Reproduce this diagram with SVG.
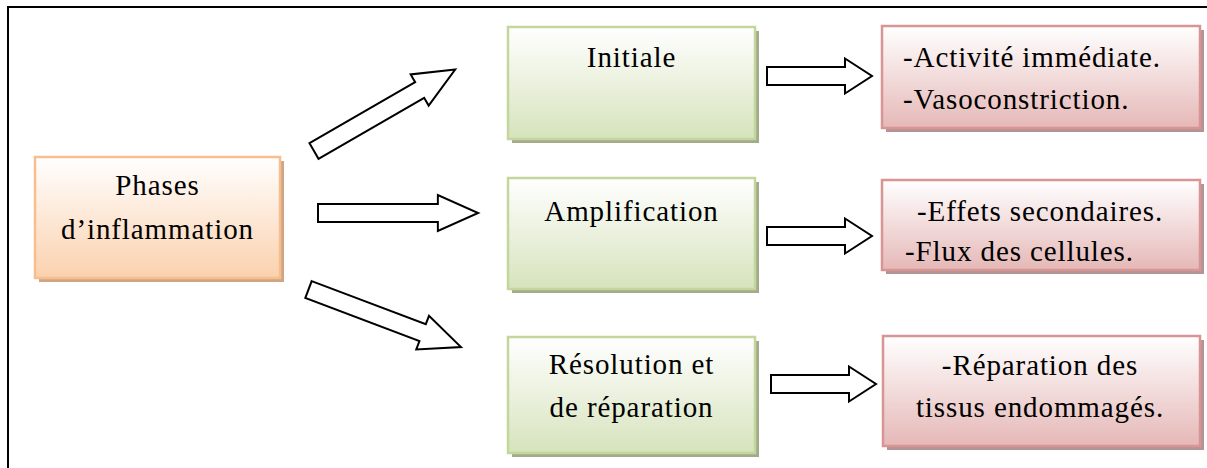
<svg xmlns="http://www.w3.org/2000/svg" width="1207" height="468" viewBox="0 0 1207 468">
<defs>
<linearGradient id="gOrange" x1="0" y1="0" x2="0" y2="1"><stop offset="0" stop-color="#ffffff"/><stop offset="1" stop-color="#fbd1ae"/></linearGradient>
<linearGradient id="gGreen" x1="0" y1="0" x2="0" y2="1"><stop offset="0" stop-color="#ffffff"/><stop offset="0.5" stop-color="#ebf1de"/><stop offset="1" stop-color="#d6e3bc"/></linearGradient>
<linearGradient id="gPink" x1="0" y1="0" x2="0" y2="1"><stop offset="0" stop-color="#ffffff"/><stop offset="1" stop-color="#e5b8b7"/></linearGradient>
<path id="arrSmall" d="M0,-9 H78 V-17.5 L105,0 L78,17.5 V9 H0 Z"/>
<path id="arrBig" d="M0,-9 H122 V-18 L163,0 L122,18 V9 H0 Z"/>
</defs>
<style>
.t{font-size:29px;letter-spacing:0.9px;fill:#000}
.c{text-anchor:middle}
.arrow{fill:#fff;stroke:#000;stroke-width:2;stroke-linejoin:miter}
.oBox{fill:url(#gOrange);stroke:#f8bf8e;stroke-width:2.5}
.oSh{fill:#cfa583}
.gBox{fill:url(#gGreen);stroke:#c3d69b;stroke-width:2.5}
.gSh{fill:#a3ab8c}
.pBox{fill:url(#gPink);stroke:#d99594;stroke-width:2.5}
.pSh{fill:#b39393}
</style>
<g id="frame" fill="none" stroke="#000" stroke-width="2">
<path d="M8,468 V7 H1207"/>
</g>
<g font-family="'Liberation Serif', Tinos, 'Times New Roman', Times, 'Noto Serif', FreeSerif, serif">
<g id="node-phases">
<rect class="oSh" x="39" y="161" width="245" height="121"/>
<rect class="oBox" x="35" y="157" width="245" height="121"/>
<text class="t c" x="157.5" y="195">Phases</text>
<text class="t c" x="157.5" y="239">d’inflammation</text>
</g>
<g id="node-initiale">
<rect class="gSh" x="512" y="31" width="247" height="112"/>
<rect class="gBox" x="508" y="27" width="247" height="112"/>
<text class="t c" x="631.5" y="67">Initiale</text>
</g>
<g id="node-amplification">
<rect class="gSh" x="512" y="182" width="247" height="111"/>
<rect class="gBox" x="508" y="178" width="247" height="111"/>
<text class="t c" x="631.5" y="221">Amplification</text>
</g>
<g id="node-resolution">
<rect class="gSh" x="512" y="341" width="247" height="116"/>
<rect class="gBox" x="508" y="337" width="247" height="116"/>
<text class="t c" x="631.5" y="374">Résolution et</text>
<text class="t c" x="631.5" y="417">de réparation</text>
</g>
<g id="node-initiale-effets">
<rect class="pSh" x="886" y="30" width="318" height="102"/>
<rect class="pBox" x="882" y="26" width="318" height="102"/>
<text class="t" x="903" y="67">-Activité immédiate.</text>
<text class="t" x="903" y="109">-Vasoconstriction.</text>
</g>
<g id="node-amplification-effets">
<rect class="pSh" x="886" y="184" width="318" height="90"/>
<rect class="pBox" x="882" y="180" width="318" height="90"/>
<text class="t" x="917" y="221">-Effets secondaires.</text>
<text class="t" x="905" y="261">-Flux des cellules.</text>
</g>
<g id="node-resolution-effets">
<rect class="pSh" x="887" y="340" width="317" height="110"/>
<rect class="pBox" x="883" y="336" width="317" height="110"/>
<text class="t c" x="1040" y="375">-Réparation des</text>
<text class="t c" x="1040" y="417">tissus endommagés.</text>
</g>
</g>
<g id="connectors">
<use href="#arrBig" class="arrow" transform="translate(314,151) rotate(-30)"/>
<use href="#arrBig" class="arrow" transform="translate(318,213) scale(0.9825,1)"/>
<use href="#arrBig" class="arrow" transform="translate(308.5,289.5) rotate(20.7)"/>
<use href="#arrSmall" class="arrow" transform="translate(767,76)"/>
<use href="#arrSmall" class="arrow" transform="translate(767,236)"/>
<use href="#arrSmall" class="arrow" transform="translate(771,384)"/>
</g>
</svg>
